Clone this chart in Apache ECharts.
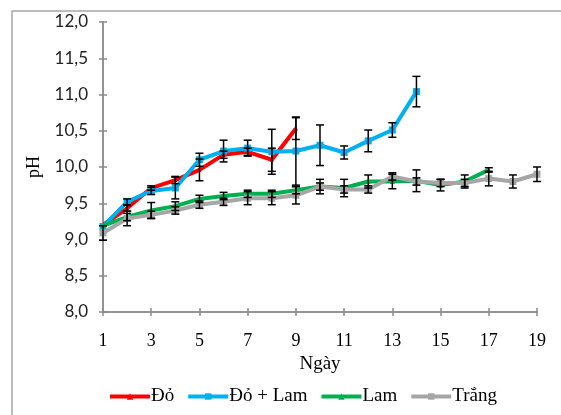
<!DOCTYPE html>
<html><head><meta charset="utf-8">
<script src="https://cdn.jsdelivr.net/npm/echarts@6/dist/echarts.min.js"></script>
<style>html,body{margin:0;padding:0;background:#fff}#c{width:561px;height:415px}</style>
</head><body><div id="c"></div>
<script>
const days = ['1','2','3','4','5','6','7','8','9','10','11','12','13','14','15','16','17','18','19'];
const yTicks = [8.0, 8.5, 9.0, 9.5, 10.0, 10.5, 11.0, 11.5, 12.0];
const seriesNames = ['Đỏ', 'Đỏ + Lam', 'Lam', 'Trắng'];
const doVals    = [9.20, 9.43, 9.71, 9.82, 9.96, 10.17, 10.21, 10.10, 10.53];
const doLamVals = [9.18, 9.52, 9.67, 9.71, 10.10, 10.22, 10.26, 10.21, 10.22, 10.30, 10.20, 10.36, 10.51, 11.04];
const lamVals   = [9.19, 9.31, 9.40, 9.46, 9.56, 9.60, 9.63, 9.63, 9.68, 9.73, 9.71, 9.80, 9.80, 9.81, 9.75, 9.80, 9.96];
const trangVals = [9.09, 9.29, 9.34, 9.40, 9.48, 9.52, 9.57, 9.57, 9.61, 9.73, 9.69, 9.69, 9.87, 9.80, 9.78, 9.78, 9.84, 9.80, 9.90];
const doErr     = [0.00, 0.04, 0.03, 0.05, 0.15, 0.05, 0.05, 0.16, 0.15];
const doLamErr  = [0.00, 0.04, 0.05, 0.15, 0.09, 0.15, 0.11, 0.31, 0.47, 0.28, 0.09, 0.15, 0.10, 0.21];
const lamErr    = [0.00, 0.05, 0.11, 0.06, 0.05, 0.05, 0.05, 0.05, 0.05, 0.10, 0.12, 0.09, 0.10, 0.15, 0.08, 0.09, 0.03];
const trangErr  = [0.10, 0.10, 0.05, 0.05, 0.05, 0.05, 0.09, 0.09, 0.12, 0.05, 0.05, 0.05, 0.05, 0.05, 0.05, 0.05, 0.10, 0.09, 0.10];

const colors = ['#ff0000', '#00b0f0', '#00b050', '#a6a6a6'];
const symbols = ['triangle', 'rect', 'triangle', 'rect'];
const symSizes = [4, 7, 5, 7];
const vals = [doVals, doLamVals, lamVals, trangVals];
const errs = [doErr, doLamErr, lamErr, trangErr];

const chart = echarts.init(document.getElementById('c'), null, {renderer: 'canvas'});
const axisLineColor = '#8c8c8c';
const serif = '"Liberation Serif", "DejaVu Serif", serif';
const sans = 'Lato, "Open Sans", sans-serif';

function errSeries(i) {
  const data = [];
  errs[i].forEach((e, k) => { if (e > 0) data.push([k, vals[i][k] - e, vals[i][k] + e]); });
  return {
    type: 'custom', name: seriesNames[i] + ' err', z: 5, silent: true,
    renderItem: function (params, api) {
      const lo = api.coord([api.value(0), api.value(1)]);
      const hi = api.coord([api.value(0), api.value(2)]);
      const w = 4;
      const st = {stroke: '#000', lineWidth: 1.5};
      return {type: 'group', children: [
        {type: 'line', shape: {x1: lo[0], y1: lo[1], x2: hi[0], y2: hi[1]}, style: st},
        {type: 'line', shape: {x1: lo[0] - w, y1: lo[1], x2: lo[0] + w, y2: lo[1]}, style: st},
        {type: 'line', shape: {x1: hi[0] - w, y1: hi[1], x2: hi[0] + w, y2: hi[1]}, style: st}
      ]};
    },
    encode: {x: 0, y: [1, 2]},
    data: data
  };
}

const lineSeries = vals.map((v, i) => ({
  type: 'line', name: seriesNames[i], data: v, color: colors[i],
  symbol: symbols[i], symbolSize: symSizes[i], showAllSymbol: true,
  lineStyle: {width: 4, color: colors[i]}, itemStyle: {color: colors[i]},
  z: 2 + i * 0.1, animation: false
}));

const yAxisBase = {
  type: 'value', min: 8, max: 12, interval: 0.5,
  axisLine: {show: true, lineStyle: {color: axisLineColor, width: 1.5}},
  splitLine: {show: false}
};
const xAxisBase = {
  type: 'category', data: days, boundaryGap: false,
  axisLine: {show: true, lineStyle: {color: axisLineColor, width: 1.5}},
  splitLine: {show: false}
};

chart.setOption({
  animation: false,
  backgroundColor: '#fff',
  grid: {left: 103, right: 24, top: 22, bottom: 103},
  graphic: [{type: 'rect', shape: {x: 12, y: 11, width: 620, height: 460},
    style: {fill: 'none', stroke: '#a6a6a6', lineWidth: 1.5}, z: -1}],
  legend: {
    data: seriesNames,
    left: 103, top: 382, itemWidth: 40, itemHeight: 8, itemGap: 12,
    lineStyle: {width: 4},
    textStyle: {fontFamily: serif, fontSize: 19, color: '#000', padding: [0, 0, 0, -4]},
    selectedMode: false
  },
  xAxis: [
    Object.assign({}, xAxisBase, {
      name: 'Ngày', nameLocation: 'middle', nameGap: 37,
      nameTextStyle: {fontFamily: serif, fontSize: 19, color: '#000'},
      axisTick: {show: true, interval: 1, length: 4, lineStyle: {color: axisLineColor, width: 1.5}},
      axisLabel: {interval: 1, margin: 20, fontFamily: serif, fontSize: 18, color: '#000'}
    }),
    Object.assign({}, xAxisBase, {
      position: 'bottom', axisLabel: {show: false},
      axisTick: {show: true, inside: true, interval: 1, length: 4, lineStyle: {color: axisLineColor, width: 1.5}}
    })
  ],
  yAxis: [
    Object.assign({}, yAxisBase, {
      name: 'pH', nameLocation: 'middle', nameGap: 56,
      nameTextStyle: {fontFamily: serif, fontSize: 18, color: '#000'},
      axisTick: {show: true, length: 4, lineStyle: {color: axisLineColor, width: 1.5}},
      axisLabel: {margin: 15, fontFamily: sans, fontSize: 17, color: '#222',
        formatter: v => yTicks.indexOf(v) >= 0 ? v.toFixed(1).replace('.', ',') : ''}
    }),
    Object.assign({}, yAxisBase, {
      position: 'left', axisLabel: {show: false},
      axisTick: {show: true, inside: true, length: 4, lineStyle: {color: axisLineColor, width: 1.5}}
    })
  ],
  series: lineSeries.concat([0, 1, 2, 3].map(errSeries))
});
</script></body></html>
